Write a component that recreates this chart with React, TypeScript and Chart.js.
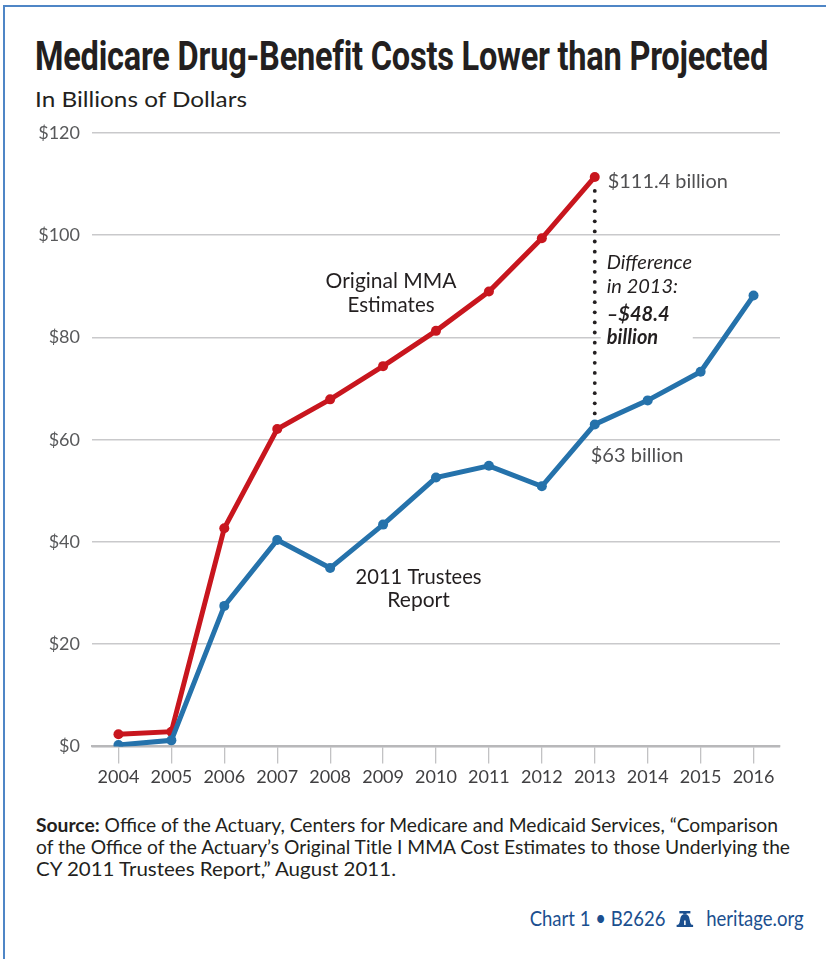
import React, { useEffect, useLayoutEffect, useRef } from "react";
import { Chart, registerables } from "chart.js";

Chart.register(...registerables);

// ---- data ----
const years = ["2004", "2005", "2006", "2007", "2008", "2009", "2010", "2011", "2012", "2013", "2014", "2015", "2016"];
const originalMMA = [2.4, 2.9, 42.7, 62.1, 67.9, 74.4, 81.3, 89.0, 99.4, 111.4, null, null, null];
const trustees2011 = [0.3, 1.2, 27.5, 40.4, 34.9, 43.4, 52.6, 54.9, 50.9, 63.0, 67.7, 73.3, 88.2];
const yTickValues = [0, 20, 40, 60, 80, 100, 120];
const yTickLabels = ["$0", "$20", "$40", "$60", "$80", "$100", "$120"];

const titleText = "Medicare Drug-Benefit Costs Lower than Projected";
const subtitleText = "In Billions of Dollars";
const sourceLines = [
  "Office of the Actuary, Centers for Medicare and Medicaid Services, \u201cComparison",
  "of the Office of the Actuary\u2019s Original Title I MMA Cost Estimates to those Underlying the",
  "CY 2011 Trustees Report,\u201d August 2011.",
];

const RED = "#c8161e";
const BLUE = "#2572ab";
const DARK = "#231f20";
const GREY_TEXT = "#505052";
const GRID = "#c9c9cb";
const FOOT_BLUE = "#1b4f8f";
const BODY_FONT = "Lato, 'Open Sans', sans-serif";

function Fit(props: { width: number; origin?: string; style?: React.CSSProperties; children: React.ReactNode }) {
  const ref = useRef<HTMLSpanElement>(null);
  useLayoutEffect(() => {
    const el = ref.current;
    if (!el) return;
    const apply = () => {
      el.style.transform = "none";
      const w = el.getBoundingClientRect().width;
      if (w > 0) el.style.transform = `scaleX(${props.width / w})`;
    };
    apply();
    if ((document as any).fonts && (document as any).fonts.ready) {
      (document as any).fonts.ready.then(apply);
    }
  }, [props.width]);
  return (
    <span
      ref={ref}
      style={{
        display: "inline-block",
        whiteSpace: "nowrap",
        transformOrigin: props.origin || "left center",
        ...props.style,
      }}
    >
      {props.children}
    </span>
  );
}

const annotationPlugin = {
  id: "mmaAnnotations",
  beforeDatasetsDraw(chart: any) {
    const ctx = chart.ctx;
    const xs = chart.scales.x;
    const ys = chart.scales.y;
    const i = years.indexOf("2013");
    const x = xs.getPixelForValue(i);
    const yTop = ys.getPixelForValue(originalMMA[i] as number) + 14;
    const yBot = ys.getPixelForValue(trustees2011[i]) - 11;
    const n = Math.round((yBot - yTop) / 10.1);
    const step = (yBot - yTop) / n;
    ctx.save();
    ctx.fillStyle = DARK;
    for (let k = 0; k <= n; k++) {
      ctx.beginPath();
      ctx.arc(x, yTop + k * step, 1.9, 0, Math.PI * 2);
      ctx.fill();
    }
    ctx.restore();
  },
  afterDatasetsDraw(chart: any) {
    const ctx = chart.ctx;
    const xs = chart.scales.x;
    const ys = chart.scales.y;
    const i13 = years.indexOf("2013");
    const i09 = years.indexOf("2009");
    const x13 = xs.getPixelForValue(i13);
    const x09 = xs.getPixelForValue(i09);
    const yRed13 = ys.getPixelForValue(originalMMA[i13] as number);
    const yBlue13 = ys.getPixelForValue(trustees2011[i13]);
    const yRed09 = ys.getPixelForValue(originalMMA[i09] as number);
    const yBlue09 = ys.getPixelForValue(trustees2011[i09]);
    const mid = (yRed13 + yBlue13) / 2;

    ctx.save();
    ctx.textBaseline = "middle";

    // value labels
    ctx.fillStyle = GREY_TEXT;
    ctx.font = `400 20px ${BODY_FONT}`;
    ctx.textAlign = "left";
    ctx.fillText(`$${originalMMA[i13]} billion`, x13 + 13, yRed13 + 5, 120);
    ctx.fillText(`$${trustees2011[i13]} billion`, x13 - 4, yBlue13 + 31, 93);

    // difference box
    ctx.fillStyle = "#ffffff";
    ctx.fillRect(x13 + 6, mid - 52, 92, 102);
    ctx.fillStyle = DARK;
    ctx.font = `italic 400 20px ${BODY_FONT}`;
    ctx.fillText("Difference", x13 + 12, mid - 38, 88);
    ctx.fillText("in 2013:", x13 + 12, mid - 14, 76);
    ctx.font = `italic 700 20px ${BODY_FONT}`;
    const diff = ((originalMMA[i13] as number) - trustees2011[i13]).toFixed(1);
    ctx.fillText(`\u2013$${diff}`, x13 + 12, mid + 14, 72);
    ctx.fillText("billion", x13 + 12, mid + 37, 70);

    // series labels
    ctx.textAlign = "center";
    ctx.font = `400 21px ${BODY_FONT}`;
    ctx.fillStyle = DARK;
    ctx.fillText("Original MMA", x09 + 8, yRed09 - 85, 131);
    ctx.fillText("Estimates", x09 + 8, yRed09 - 61, 87);
    ctx.fillText("2011 Trustees", x09 + 35.5, yBlue09 + 53, 126);
    ctx.fillText("Report", x09 + 35.5, yBlue09 + 76, 66);
    ctx.restore();
  },
};

export default function App() {
  const canvasRef = useRef<HTMLCanvasElement>(null);

  useEffect(() => {
    const canvas = canvasRef.current;
    if (!canvas) return;
    const chart = new Chart(canvas, {
      type: "line",
      data: {
        labels: years,
        datasets: [
          {
            label: "Original MMA Estimates",
            data: originalMMA,
            borderColor: RED,
            backgroundColor: RED,
            pointBackgroundColor: RED,
            pointBorderWidth: 0,
            pointRadius: 5,
            borderWidth: 5,
            tension: 0,
            spanGaps: false,
            order: 2,
          },
          {
            label: "2011 Trustees Report",
            data: trustees2011,
            borderColor: BLUE,
            backgroundColor: BLUE,
            pointBackgroundColor: BLUE,
            pointBorderWidth: 0,
            pointRadius: 5,
            borderWidth: 5,
            tension: 0,
            order: 1,
          },
        ],
      },
      options: {
        animation: false,
        responsive: false,
        maintainAspectRatio: false,
        devicePixelRatio: 1,
        layout: { padding: { left: 0, right: 46, top: 33, bottom: 0 } },
        plugins: {
          legend: { display: false },
          title: { display: false },
          tooltip: { enabled: false },
        },
        scales: {
          x: {
            type: "category",
            offset: true,
            grid: {
              display: true,
              drawOnChartArea: false,
              drawTicks: true,
              tickLength: 17,
              color: "#c2c2c4",
              lineWidth: 1.3,
            },
            border: { display: true, color: "#b8b8ba", width: 2.2 },
            ticks: {
              color: "#414042",
              font: { family: BODY_FONT, size: 18 },
              padding: 3,
              maxRotation: 0,
              autoSkip: false,
            },
            afterFit: (scale: any) => {
              scale.height = 53.5;
            },
          },
          y: {
            min: 0,
            max: 120,
            afterBuildTicks: (scale: any) => {
              scale.ticks = yTickValues.map((v) => ({ value: v }));
            },
            grid: {
              color: GRID,
              lineWidth: 1.6,
              drawTicks: false,
            },
            border: { display: false },
            ticks: {
              color: "#58595b",
              font: { family: BODY_FONT, size: 18 },
              padding: 12,
              callback: (v: any) => yTickLabels[yTickValues.indexOf(Number(v))],
            },
            afterFit: (scale: any) => {
              scale.width = 92;
            },
          },
        },
      },
      plugins: [annotationPlugin],
    });
    return () => chart.destroy();
  }, []);

  return (
    <div
      style={{
        position: "absolute",
        left: 0,
        top: 0,
        width: 826,
        height: 959,
        background: "#ffffff",
        overflow: "hidden",
        fontFamily: BODY_FONT,
      }}
    >
      {/* frame */}
      <div style={{ position: "absolute", left: 3, top: 5, width: 2, height: 954, background: "#4f86c6" }} />
      <div style={{ position: "absolute", left: 3, top: 5, width: 823, height: 2, background: "#4f86c6" }} />

      {/* title */}
      <div
        style={{
          position: "absolute",
          left: 35,
          top: 32,
          fontFamily: "Roboto, 'Open Sans', sans-serif",
          fontWeight: 700,
          fontSize: 41,
          color: DARK,
          lineHeight: "normal",
          letterSpacing: -0.3,
        }}
      >
        <Fit width={733}>{titleText}</Fit>
      </div>
      <div
        style={{
          position: "absolute",
          left: 35,
          top: 85,
          fontSize: 22,
          color: DARK,
          lineHeight: "normal",
        }}
      >
        <Fit width={212}>{subtitleText}</Fit>
      </div>

      {/* chart */}
      <canvas
        ref={canvasRef}
        width={826}
        height={700}
        style={{ position: "absolute", left: 0, top: 100, width: 826, height: 700 }}
      />

      {/* source */}
      <div style={{ position: "absolute", left: 36, top: 814, fontSize: 19, color: DARK, lineHeight: "22px" }}>
        <div>
          <Fit width={742}>
            <span style={{ fontWeight: 700 }}>Source:</span> {sourceLines[0]}
          </Fit>
        </div>
        <div>
          <Fit width={754}>{sourceLines[1]}</Fit>
        </div>
        <div>
          <Fit width={360}>{sourceLines[2]}</Fit>
        </div>
      </div>

      {/* footer */}
      <div
        style={{
          position: "absolute",
          right: 22,
          top: 905,
          fontSize: 21,
          color: FOOT_BLUE,
          lineHeight: "normal",
          textAlign: "right",
        }}
      >
        <Fit width={274} origin="right center">
          <span>Chart 1 &bull; B2626</span>
          <svg
            width="20"
            height="16"
            viewBox="0 0 16 16"
            preserveAspectRatio="none"
            style={{ margin: "0 14px 0 12px", verticalAlign: "-1px" }}
          >
            <rect x="3" y="0" width="10" height="2.4" fill={FOOT_BLUE} />
            <rect x="6.5" y="2" width="3" height="1.5" fill={FOOT_BLUE} />
            <path d="M1.5 14.5 Q3.5 12.5 3.8 8 Q4.2 3.2 8 3.2 Q11.8 3.2 12.2 8 Q12.5 12.5 14.5 14.5 Z" fill={FOOT_BLUE} />
            <rect x="0.5" y="13.8" width="15" height="2.2" fill={FOOT_BLUE} />
            <rect x="7.3" y="9.5" width="1.4" height="4.5" fill="#ffffff" />
          </svg>
          <span>heritage.org</span>
        </Fit>
      </div>
    </div>
  );
}
